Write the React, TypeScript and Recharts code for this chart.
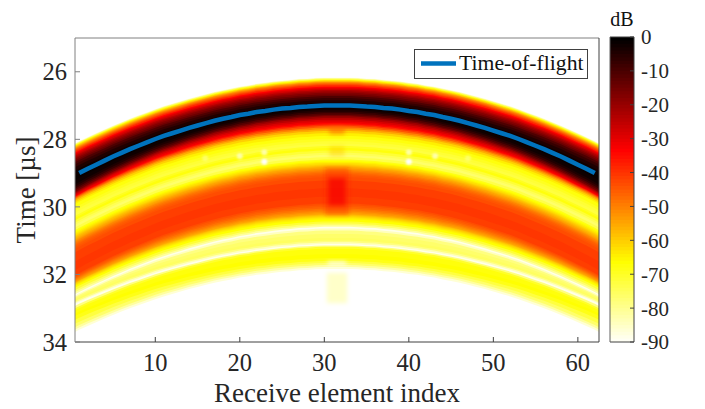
import {
  Area,
  ComposedChart,
  Legend,
  Line,
  ReferenceArea,
  ReferenceDot,
  XAxis,
  YAxis,
} from "recharts";

const FONT = "'Liberation Serif', serif";
const INK = "#262626";

const elements = [
  1, 2, 3, 4, 5, 6, 7, 8, 9, 10, 11, 12, 13, 14, 15, 16, 17, 18, 19, 20, 21,
  22, 23, 24, 25, 26, 27, 28, 29, 30, 31, 32, 33, 34, 35, 36, 37, 38, 39, 40,
  41, 42, 43, 44, 45, 46, 47, 48, 49, 50, 51, 52, 53, 54, 55, 56, 57, 58, 59,
  60, 61, 62,
];

// time of flight per receive element, us
const flight = [
  29.0, 28.87, 28.75, 28.63, 28.51, 28.4, 28.29, 28.19, 28.09, 27.99, 27.9,
  27.82, 27.74, 27.66, 27.59, 27.52, 27.45, 27.39, 27.34, 27.28, 27.24, 27.19,
  27.16, 27.12, 27.09, 27.07, 27.04, 27.03, 27.01, 27.0, 27.0, 27.0, 27.0,
  27.01, 27.03, 27.04, 27.07, 27.09, 27.12, 27.16, 27.19, 27.24, 27.28, 27.34,
  27.39, 27.45, 27.52, 27.59, 27.66, 27.74, 27.82, 27.9, 27.99, 28.09, 28.19,
  28.29, 28.4, 28.51, 28.63, 28.75, 28.87, 29.0,
];

// each level starts at levelCentre at the middle of the array, levelEdge at the ends
const levelCentre = [
  26.17, 26.185, 26.2, 26.22, 26.24, 26.26, 26.285, 26.31, 26.34, 26.37, 26.4,
  26.44, 26.47, 26.5, 26.54, 26.58, 26.62, 26.67, 26.72, 26.78, 26.84, 26.92,
  27.02, 27.08, 27.13, 27.18, 27.23, 27.28, 27.32, 27.37, 27.42, 27.47, 27.52,
  27.56, 27.6, 27.65, 27.7, 27.75, 27.82, 27.9, 27.98, 28.06, 28.13, 28.2,
  28.26, 28.33, 28.4, 28.46, 28.53, 28.6, 28.64, 28.67, 28.7, 28.74, 28.77,
  28.8, 28.83, 28.87, 28.91, 28.95, 28.99, 29.03, 29.07, 29.12, 29.22, 29.45,
  29.7, 29.9, 29.95, 30.0, 30.05, 30.1, 30.14, 30.18, 30.22, 30.25, 30.28,
  30.31, 30.34, 30.37, 30.43, 30.49, 30.54, 30.59, 30.64, 30.7, 30.8, 30.92,
  31.0, 31.05, 31.1, 31.14, 31.18, 31.24, 31.4, 31.52, 31.6, 31.66, 31.72,
  31.78, 31.84,
];
const levelEdge = [
  28.05, 28.065, 28.08, 28.1, 28.12, 28.14, 28.17, 28.2, 28.23, 28.26, 28.29,
  28.33, 28.36, 28.39, 28.43, 28.47, 28.51, 28.56, 28.61, 28.68, 28.76, 28.86,
  29.02, 29.14, 29.26, 29.33, 29.39, 29.44, 29.49, 29.52, 29.55, 29.58, 29.61,
  29.63, 29.65, 29.68, 29.71, 29.75, 29.8, 29.85, 29.95, 30.03, 30.11, 30.2,
  30.26, 30.33, 30.4, 30.46, 30.54, 30.62, 30.66, 30.7, 30.74, 30.78, 30.81,
  30.85, 30.89, 30.93, 30.96, 31.0, 31.04, 31.08, 31.13, 31.18, 31.28, 31.55,
  31.8, 31.96, 31.99, 32.02, 32.05, 32.08, 32.11, 32.14, 32.17, 32.19, 32.21,
  32.24, 32.26, 32.28, 32.33, 32.4, 32.46, 32.52, 32.56, 32.6, 32.64, 32.68,
  32.73, 32.77, 32.81, 32.87, 32.94, 33.0, 33.1, 33.17, 33.28, 33.4, 33.5,
  33.57, 33.64,
];
const levelDb = [
  -88, -82, -76, -70, -65, -60, -55, -50, -46, -42, -38, -33, -30, -27, -23,
  -20, -17, -14, -10, -7, -4, -2, -1, -2, -4, -7, -11, -15, -20, -24, -28, -31,
  -34, -39, -44, -50, -55, -60, -64, -67, -69, -71, -72, -69, -67, -71, -74,
  -76, -73, -68, -66, -64, -62, -60, -58, -56, -54, -52, -50, -48, -46.5, -45,
  -44, -43, -41, -40, -41, -43, -44.5, -46, -48, -50, -52, -54, -56.5, -59,
  -61, -63, -64.5, -66, -71, -76, -81, -88, -84, -78, -76, -75, -78, -84, -88,
  -78, -70, -67, -66, -68, -72, -76, -81, -86, -90,
];

// column of stronger signal at the array centre
const patchFrom = [30.6, 30.6, 30.1, 30.5, 30.3, 30.4];
const patchTo = [32.4, 32.4, 32.9, 32.5, 32.7, 32.6];
const patchStart = [27.62, 28.2, 28.85, 29.15, 31.95, 31.62];
const patchEnd = [27.85, 28.5, 30.25, 29.95, 32.85, 31.72];
const patchDb = [-46, -58, -38, -32, -84, -90];
const patchWeight = [0.55, 0.4, 0.4, 0.7, 0.85, 0.95];

// bright specks left and right of the centre
const speckElement = [15.9, 20, 22.9, 22.9, 40, 40, 43.1, 47];
const speckTime = [28.55, 28.5, 28.39, 28.66, 28.39, 28.66, 28.5, 28.55];
const speckWeight = [0.3, 0.6, 0.6, 1, 0.6, 1, 0.6, 0.3];

const xTicks = [10, 20, 30, 40, 50, 60];
const yTicks = [26, 28, 30, 32, 34];
const barTicks = [0, -10, -20, -30, -40, -50, -60, -70, -80, -90];
const barLevels = [
  0, -1, -2, -3, -4, -5, -6, -7, -8, -9, -10, -11, -12, -13, -14, -15, -16,
  -17, -18, -19, -20, -21, -22, -23, -24, -25, -26, -27, -28, -29, -30, -31,
  -32, -33, -34, -35, -36, -37, -38, -39, -40, -41, -42, -43, -44, -45, -46,
  -47, -48, -49, -50, -51, -52, -53, -54, -55, -56, -57, -58, -59, -60, -61,
  -62, -63, -64, -65, -66, -67, -68, -69, -70, -71, -72, -73, -74, -75, -76,
  -77, -78, -79, -80, -81, -82, -83, -84, -85, -86, -87, -88, -89,
];

const hex = (v: number) =>
  Math.round(Math.max(0, Math.min(1, v)) * 255)
    .toString(16)
    .padStart(2, "0");

const dbColor = (db: number) =>
  `#${hex(-db / 33)}${hex((-db - 33) / 33)}${hex((-db - 66) / 24)}`;

// image runs half an element past the first and last one
const imageElements = [0.5, ...elements, 62.5];
const imageFlight = [29.07, ...flight, 29.07];

const imageData = imageElements.map((element, i) => {
  const row: Record<string, unknown> = { element };
  row.flight = i === 0 || i === imageElements.length - 1 ? null : imageFlight[i];
  const share = (imageFlight[i] - 27) / 2;
  levelDb.forEach((_, j) => {
    row[`level${j}`] = [levelCentre[j] + (levelEdge[j] - levelCentre[j]) * share, 34];
  });
  return row;
});

const barData = [0, 1].map((pos) => {
  const row: Record<string, unknown> = { pos };
  barLevels.forEach((db, j) => {
    row[`bar${j}`] = [db, -90];
  });
  return row;
});

const tickText = { fontSize: 24.5, fill: INK, fontFamily: FONT };

function TofLegend() {
  return (
    <div
      style={{
        width: 172,
        height: 28,
        border: "1px solid #404040",
        background: "#fff",
        position: "relative",
        fontFamily: FONT,
        fontSize: 21.7,
        color: "#111",
      }}
    >
      <svg width={40} height={28} style={{ position: "absolute", left: 6, top: 0 }}>
        <line x1={0} x2={35} y1={13.5} y2={13.5} stroke="#0072BD" strokeWidth={4.5} />
      </svg>
      <span style={{ position: "absolute", left: 44, top: 1, whiteSpace: "nowrap" }}>
        Time-of-flight
      </span>
    </div>
  );
}

function MainChart() {
  return (
    <ComposedChart
      width={705}
      height={409}
      data={imageData}
      margin={{ top: 37, right: 105, bottom: 0, left: 0 }}
    >
      <defs>
        <filter id="soft" x="-100%" y="-100%" width="300%" height="300%">
          <feGaussianBlur stdDeviation={2.2} />
        </filter>
        <filter id="softDot" x="-200%" y="-200%" width="500%" height="500%">
          <feGaussianBlur stdDeviation={1.3} />
        </filter>
      </defs>
      {levelDb.map((db, j) => (
        <Area
          key={j}
          dataKey={`level${j}`}
          type="linear"
          stroke="none"
          fill={dbColor(db)}
          fillOpacity={1}
          dot={false}
          activeDot={false}
          legendType="none"
          isAnimationActive={false}
        />
      ))}
      {patchDb.map((db, i) => (
        <ReferenceArea
          key={i}
          x1={patchFrom[i]}
          x2={patchTo[i]}
          y1={patchStart[i]}
          y2={patchEnd[i]}
          fill={dbColor(db)}
          fillOpacity={patchWeight[i]}
          stroke="none"
          filter="url(#soft)"
        />
      ))}
      {speckElement.map((element, i) => (
        <ReferenceDot
          key={i}
          x={element}
          y={speckTime[i]}
          r={3}
          fill="#fff"
          fillOpacity={speckWeight[i]}
          stroke="none"
          filter="url(#softDot)"
        />
      ))}
      <Line
        dataKey="flight"
        type="linear"
        stroke="#0072BD"
        strokeWidth={4.5}
        dot={false}
        activeDot={false}
        legendType="none"
        isAnimationActive={false}
      />
      <XAxis
        dataKey="element"
        type="number"
        domain={[0.5, 62.5]}
        ticks={xTicks}
        height={67}
        allowDataOverflow
        tickSize={-5}
        tickMargin={17}
        tick={tickText}
        stroke="#404040"
        label={{
          value: "Receive element index",
          position: "insideBottom",
          offset: 7,
          style: { fontSize: 27, fill: INK, fontFamily: FONT },
        }}
      />
      <XAxis
        xAxisId="top"
        orientation="top"
        type="number"
        domain={[0.5, 62.5]}
        ticks={xTicks}
        height={1}
        allowDataOverflow
        tickSize={-5}
        tick={false}
        stroke="#808080"
      />
      <YAxis
        type="number"
        reversed
        domain={[25, 34]}
        ticks={yTicks}
        width={75}
        allowDataOverflow
        tickSize={-5}
        tickMargin={13}
        tick={tickText}
        stroke="#808080"
        label={{
          value: "Time [µs]",
          angle: -90,
          position: "insideLeft",
          offset: 25,
          style: { fontSize: 27, fill: INK, fontFamily: FONT, textAnchor: "middle" },
        }}
      />
      <YAxis
        yAxisId="right"
        orientation="right"
        type="number"
        reversed
        domain={[25, 34]}
        ticks={yTicks}
        width={1}
        allowDataOverflow
        tickSize={-5}
        tick={false}
        stroke="#404040"
      />
      <Legend
        layout="horizontal"
        align="center"
        verticalAlign="middle"
        content={<TofLegend />}
        wrapperStyle={{ left: 414, top: 49, width: 174, height: 30, bottom: "auto" }}
      />
    </ComposedChart>
  );
}

function ColorBar() {
  return (
    <ComposedChart
      width={105}
      height={409}
      data={barData}
      margin={{ top: 0, right: 0, bottom: 66, left: 9 }}
    >
      {barLevels.map((db, j) => (
        <Area
          key={j}
          dataKey={`bar${j}`}
          type="linear"
          stroke="none"
          fill={dbColor(db)}
          fillOpacity={1}
          dot={false}
          activeDot={false}
          legendType="none"
          isAnimationActive={false}
        />
      ))}
      <XAxis dataKey="pos" type="number" domain={[0, 1]} height={1} tick={false} tickLine={false} stroke="#404040" />
      <XAxis
        xAxisId="top"
        orientation="top"
        type="number"
        domain={[0, 1]}
        height={37}
        tick={false}
        tickLine={false}
        stroke="#404040"
        label={{
          value: "dB",
          position: "insideBottom",
          offset: 11,
          style: { fontSize: 20, fill: "#111", fontFamily: FONT },
        }}
      />
      <YAxis
        yAxisId="left"
        type="number"
        domain={[-90, 0]}
        width={1}
        tick={false}
        tickLine={false}
        stroke="#606060"
      />
      <YAxis
        orientation="right"
        type="number"
        domain={[-90, 0]}
        ticks={barTicks}
        width={71}
        tickSize={-4}
        tickMargin={11}
        tick={{ fontSize: 21, fill: INK, fontFamily: FONT }}
        stroke="#404040"
      />
    </ComposedChart>
  );
}

export default function App() {
  return (
    <div style={{ position: "absolute", left: 0, top: 0, width: 705, height: 409 }}>
      <MainChart />
      <div style={{ position: "absolute", left: 600, top: 0 }}>
        <ColorBar />
      </div>
    </div>
  );
}
